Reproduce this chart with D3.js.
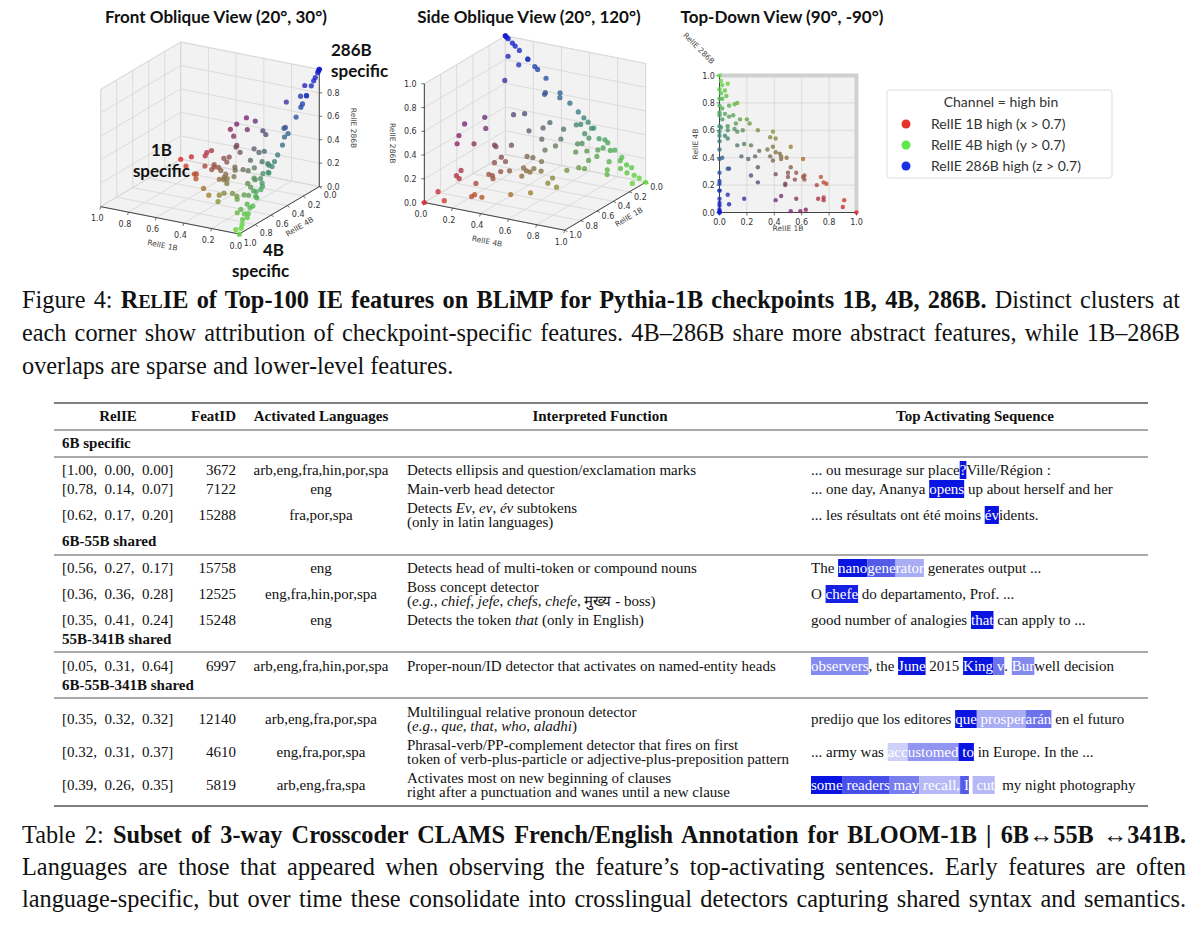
<!DOCTYPE html>
<html>
<head>
<meta charset="utf-8">
<script src="https://cdn.jsdelivr.net/npm/d3@7"></script>
<style>
  body { margin: 0; background: #fff; }
  text { white-space: pre; }
</style>
</head>
<body>
<div id="chart"></div>
<script>
// RelIE values of the top-100 features (1B, 4B, 286B)
const relie1B = [0,.01,.02,.06,0,.04,.01,.05,0,.02,.07,.11,.13,0,.02,0,.04,0,.07,.10,.02,
  0,.01,.06,.12,.15,.20,.22,.28,0,.06,.11,.13,.17,0,.04,0,.06,.13,.18,.23,.29,.26,.16,.21,.37,.39,.41,.35,.39,.41,.37,.44,.45,.52,.49,.45,.39,
  0,0,.02,.07,.06,.28,.52,.56,.61,.62,.55,.50,.48,.41,.50,
  0,0,0,0,0,0,0,0,0,0,0,0,.23,.28,.06,.07,.18,
  .41,.45,.48,.56,.52,.59,.63,.74,.76,.78,.61,.62,.72,.76,.76,.90,.91,1,.71];
const relie4B = [1,.96,.93,.94,.90,.89,.87,.85,.83,.83,.78,.79,.80,.78,.76,.73,.72,.71,.70,.71,.68,
  .63,.62,.63,.65,.68,.68,.65,.60,.59,.60,.61,.59,.60,.56,.56,.52,.54,.49,.50,.49,.45,.41,.41,.39,.55,.59,.54,.46,.48,.44,.41,.43,.41,.48,.40,.39,.38,
  .46,.39,.40,.32,.32,.33,.33,.29,.39,.27,.24,.26,.20,.28,.29,
  .29,.23,.21,.16,.16,.10,.07,.05,.02,0,0,.01,.27,.22,.13,.06,.10,
  .09,.12,.21,.10,.01,.01,.02,.26,.22,.21,.26,.24,.10,.11,.09,.04,.09,0,.20];
const relie286B = [0,.03,.05,0,.10,.07,.12,.10,.17,.15,.15,.10,.07,.22,.22,.27,.24,.29,.23,.19,.30,
  .37,.37,.31,.23,.17,.12,.13,.12,.41,.34,.28,.28,.23,.44,.40,.48,.40,.38,.32,.28,.26,.33,.43,.40,.08,.02,.05,.19,.13,.15,.22,.13,.14,0,.11,.16,.23,
  .54,.61,.58,.61,.62,.39,.15,.15,0,.11,.21,.24,.32,.31,.21,
  .71,.77,.79,.84,.84,.90,.93,.95,.98,1,1,.99,.50,.50,.81,.87,.72,
  .50,.43,.31,.34,.47,.40,.35,0,.02,.01,.13,.14,.18,.13,.15,.06,0,0,.09];

const tickValues = [0, 0.2, 0.4, 0.6, 0.8, 1.0];
const legendLabels = ["RelIE 1B high (x > 0.7)", "RelIE 4B high (y > 0.7)", "RelIE 286B high (z > 0.7)"];
const legendColors = ["#e3342b", "#5fe84a", "#1a30e6"];

// table data
const groupNames = ["6B specific", "6B-55B shared", "55B-341B shared", "6B-55B-341B shared"];
const tableRelie = ["[1.00,  0.00,  0.00]", "[0.78,  0.14,  0.07]", "[0.62,  0.17,  0.20]",
  "[0.56,  0.27,  0.17]", "[0.36,  0.36,  0.28]", "[0.35,  0.41,  0.24]",
  "[0.05,  0.31,  0.64]",
  "[0.35,  0.32,  0.32]", "[0.32,  0.31,  0.37]", "[0.39,  0.26,  0.35]"];
const tableFeat = ["3672", "7122", "15288", "15758", "12525", "15248", "6997", "12140", "4610", "5819"];
const tableLangs = ["arb,eng,fra,hin,por,spa", "eng", "fra,por,spa", "eng", "eng,fra,hin,por,spa", "eng",
  "arb,eng,fra,hin,por,spa", "arb,eng,fra,por,spa", "eng,fra,por,spa", "arb,eng,fra,spa"];
// each function: list of lines, each line list of [text, italic]
const tableFunc = [
  [[["Detects ellipsis and question/exclamation marks", 0]]],
  [[["Main-verb head detector", 0]]],
  [[["Detects ", 0], ["Ev", 1], [", ", 0], ["ev", 1], [", ", 0], ["év", 1], [" subtokens", 0]], [["(only in latin languages)", 0]]],
  [[["Detects head of multi-token or compound nouns", 0]]],
  [[["Boss concept detector", 0]], [["(", 0], ["e.g.", 1], [", ", 0], ["chief", 1], [", ", 0], ["jefe", 1], [", ", 0], ["chefs", 1], [", ", 0], ["chefe", 1], [", मुख्य - boss)", 0]]],
  [[["Detects the token ", 0], ["that", 1], [" (only in English)", 0]]],
  [[["Proper-noun/ID detector that activates on named-entity heads", 0]]],
  [[["Multilingual relative pronoun detector", 0]], [["(", 0], ["e.g.", 1], [", ", 0], ["que", 1], [", ", 0], ["that", 1], [", ", 0], ["who", 1], [", ", 0], ["aladhi", 1], [")", 0]]],
  [[["Phrasal-verb/PP-complement detector that fires on first", 0]], [["token of verb-plus-particle or adjective-plus-preposition pattern", 0]]],
  [[["Activates most on new beginning of clauses", 0]], [["right after a punctuation and wanes until a new clause", 0]]]
];
// each sequence: list of [token text, activation]
const tableSeq = [
  [["... ou mesurage sur place", 0], ["?", 1], ["Ville/Région :", 0]],
  [["... one day, Ananya ", 0], ["opens", 1], [" up about herself and her", 0]],
  [["... les résultats ont été moins ", 0], ["év", 1], ["idents.", 0]],
  [["The ", 0], ["nano", 1], ["gene", .7], ["rator", .35], [" generates output ...", 0]],
  [["O ", 0], ["chefe", .95], [" do departamento, Prof. ...", 0]],
  [["good number of analogies ", 0], ["that", 1], [" can apply to ...", 0]],
  [["observers", .5], [", the ", 0], ["June", 1], [" 2015 ", 0], ["King", 1], [" v", .6], [". ", 0], ["Bur", .5], ["well decision", 0]],
  [["predijo que los editores ", 0], ["que", 1], [" prosper", .35], ["arán", .6], [" en el futuro", 0]],
  [["... army was ", 0], ["acc", .2], ["ustomed", .45], [" to", 1], [" in Europe. In the ...", 0]],
  [["some", 1], [" readers", .75], [" may", .55], [" recall,", .3], [" I", .7], [" ", 0], [" cut", .3], ["  my night photography", 0]]
];

const W = 1200, H = 929;
const svg = d3.select("#chart").append("svg").attr("width", W).attr("height", H);
const sans = "Lato, 'Open Sans', sans-serif";
const serif = "'Liberation Serif', 'Times New Roman', serif";

function pointColor(x, y, z) {
  const s = x + y + z || 1;
  x /= s; y /= s; z /= s;
  return d3.rgb(x * 215 + y * 95 + z * 20, x * 40 + y * 220 + z * 25, x * 45 + y * 55 + z * 205);
}

// simple orthographic version of matplotlib's 3D view
function makeView(elev, azim, cx, cy, s) {
  const e = elev * Math.PI / 180, a = azim * Math.PI / 180;
  const r = [-Math.sin(a), Math.cos(a), 0];
  const u = [-Math.sin(e) * Math.cos(a), -Math.sin(e) * Math.sin(a), Math.cos(e)];
  const eye = [Math.cos(e) * Math.cos(a), Math.cos(e) * Math.sin(a), Math.sin(e)];
  const sx = d3.scaleLinear().domain([-1, 1]).range([cx - s, cx + s]);
  const sy = d3.scaleLinear().domain([-1, 1]).range([cy + s, cy - s]);
  const q = p => [p[0] - 0.5, p[1] - 0.5, (p[2] - 0.5) * 0.78];
  const dot = (v, w) => v[0] * w[0] + v[1] * w[1] + v[2] * w[2];
  return {
    eye, center: [cx, cy],
    p: pt => { const v = q(pt); return [sx(dot(v, r)), sy(dot(v, u))]; },
    depth: pt => dot(q(pt), eye)
  };
}

function drawPanel(view, opts) {
  const g = svg.append("g");
  const P = view.p;
  const line = pts => "M" + pts.map(p => P(p).join(",")).join("L");
  // back panes
  const panes = [];
  if (opts.panes) {
    const bx = view.eye[0] > 0 ? 0 : 1, by = view.eye[1] > 0 ? 0 : 1;
    panes.push({ ax: 0, v: bx }, { ax: 1, v: by }, { ax: 2, v: 0 });
  } else panes.push({ ax: 2, v: 0 });
  panes.forEach(pn => {
    const others = [0, 1, 2].filter(i => i !== pn.ax);
    const mk = (a, b) => { const p = [0, 0, 0]; p[pn.ax] = pn.v; p[others[0]] = a; p[others[1]] = b; return p; };
    g.append("path").attr("d", line([mk(0, 0), mk(1, 0), mk(1, 1), mk(0, 1)]) + "Z")
      .attr("fill", "#f2f2f2").attr("stroke", "#dcdcdc").attr("stroke-width", 0.8);
    tickValues.forEach(t => {
      g.append("path").attr("d", line([mk(t, 0), mk(t, 1)])).attr("stroke", "#d6d6d6").attr("stroke-width", 0.8);
      g.append("path").attr("d", line([mk(0, t), mk(1, t)])).attr("stroke", "#d6d6d6").attr("stroke-width", 0.8);
    });
  });
  if (opts.frame) {
    // thick grey frame edges seen in the top-down render
    g.append("path").attr("d", line([[0, 1, 0], [1, 1, 0], [1, 0, 0]]))
      .attr("fill", "none").attr("stroke", "#d0d0d0").attr("stroke-width", 4);
  }
  // axes with ticks
  opts.axes.forEach(ax => {
    const at = t => { const p = ax.base.slice(); p[ax.dim] = t; return p; };
    g.append("path").attr("d", line([at(0), at(1)])).attr("stroke", "#333").attr("stroke-width", 0.9);
    const mid = P(at(0.5));
    let ox = ax.out[0], oy = ax.out[1];
    const len = Math.hypot(ox, oy); ox /= len; oy /= len;
    tickValues.forEach(t => {
      const p = P(at(t));
      g.append("line").attr("x1", p[0]).attr("y1", p[1]).attr("x2", p[0] + ox * 3).attr("y2", p[1] + oy * 3)
        .attr("stroke", "#333").attr("stroke-width", 0.7);
      if (ax.skip && ax.skip.includes(t)) return;
      g.append("text").attr("x", p[0] + ox * (ax.tickOff || 12)).attr("y", p[1] + oy * (ax.tickOff || 12) + 3)
        .attr("text-anchor", "middle").attr("font-family", "'DejaVu Sans', sans-serif").attr("font-size", 8)
        .attr("fill", "#333").text(t.toFixed(1));
    });
    const a = P(at(0)), b = P(at(1));
    let ang = Math.atan2(b[1] - a[1], b[0] - a[0]) * 180 / Math.PI;
    if (ang > 90) ang -= 180; if (ang < -90) ang += 180;
    if (ax.rot !== undefined) ang = ax.rot;
    const tx = mid[0] + ox * (ax.titleOff || 26), ty = mid[1] + oy * (ax.titleOff || 26);
    g.append("text").attr("transform", `translate(${tx},${ty}) rotate(${ang})`)
      .attr("text-anchor", "middle").attr("dy", "0.35em")
      .attr("font-family", "'DejaVu Sans', sans-serif").attr("font-size", 7.5).attr("fill", "#444").text(ax.title);
  });
  // points, far first
  const idx = d3.range(relie1B.length).map(i => [relie1B[i], relie4B[i], relie286B[i]]);
  idx.sort((p, q) => view.depth(p) - view.depth(q));
  g.append("g").selectAll("circle").data(idx).join("circle")
    .attr("cx", d => P(d)[0]).attr("cy", d => P(d)[1]).attr("r", opts.r)
    .attr("fill", d => pointColor(...d)).attr("fill-opacity", 0.8);
  return g;
}

// panel 1
drawPanel(makeView(20, 120, 210, 138, 160), {
  panes: true, r: 2.6,
  axes: [
    { dim: 0, base: [0, 1, 0], title: "RelIE 1B", out: [-0.3, 1] },
    { dim: 1, base: [0, 0, 0], title: "RelIE 4B", out: [1, 0.8], tickOff: 14 },
    { dim: 2, base: [0, 0, 0], title: "RelIE 286B", out: [1, 0], rot: 90, titleOff: 34, tickOff: 14, skip: [1] }
  ]
});
// panel 2
drawPanel(makeView(20, 30, 535, 133, 162), {
  panes: true, r: 2.6,
  axes: [
    { dim: 0, base: [0, 1, 0], title: "RelIE 1B", out: [1, 0.45] },
    { dim: 1, base: [1, 0, 0], title: "RelIE 4B", out: [-0.3, 1] },
    { dim: 2, base: [1, 0, 0], title: "RelIE 286B", out: [-1, 0], rot: 90, titleOff: 32, tickOff: 14 }
  ]
});
// panel 3
drawPanel(makeView(90, -90, 788, 144, 137), {
  panes: false, r: 2.2, frame: true,
  axes: [
    { dim: 0, base: [0, 0, 0], title: "RelIE 1B", out: [0, 1], tickOff: 9, titleOff: 16 },
    { dim: 1, base: [0, 0, 0], title: "RelIE 4B", out: [-1, 0], tickOff: 11, titleOff: 24, rot: -90 }
  ]
});
svg.append("text").attr("transform", "translate(697,50) rotate(45)").attr("text-anchor", "middle")
  .attr("font-family", "'DejaVu Sans', sans-serif").attr("font-size", 7.5).attr("fill", "#444").text("RelIE 286B");

// panel titles
[["Front Oblique View (20°, 30°)", 216], ["Side Oblique View (20°, 120°)", 529], ["Top-Down View (90°, -90°)", 782]]
  .forEach(([t, x]) => svg.append("text").attr("x", x).attr("y", 23).attr("text-anchor", "middle")
    .attr("font-family", sans).attr("font-weight", "bold").attr("font-size", 17).attr("fill", "#111").text(t));

// corner annotations
const ann = svg.append("g").attr("font-family", sans).attr("font-weight", "bold").attr("font-size", 17).attr("fill", "#111");
ann.append("text").attr("x", 331).attr("y", 56).text("286B");
ann.append("text").attr("x", 331).attr("y", 77).text("specific");
ann.append("text").attr("x", 172).attr("y", 156).attr("text-anchor", "end").text("1B");
ann.append("text").attr("x", 190).attr("y", 177).attr("text-anchor", "end").text("specific");
ann.append("text").attr("x", 263).attr("y", 256).text("4B");
ann.append("text").attr("x", 232).attr("y", 277).text("specific");

// legend
const lg = svg.append("g");
lg.append("rect").attr("x", 887).attr("y", 90).attr("width", 225).attr("height", 88).attr("rx", 3)
  .attr("fill", "#fff").attr("stroke", "#ddd");
lg.append("text").attr("x", 1001).attr("y", 107).attr("text-anchor", "middle")
  .attr("font-family", sans).attr("font-size", 14).attr("fill", "#333").text("Channel = high bin");
legendLabels.forEach((t, i) => {
  lg.append("circle").attr("cx", 906).attr("cy", 124 + i * 21).attr("r", 4.5).attr("fill", legendColors[i]);
  lg.append("text").attr("x", 931).attr("y", 129 + i * 21).attr("font-family", sans).attr("font-size", 14)
    .attr("fill", "#333").text(t);
});

// captions
function captionLine(y, parts, width) {
  const t = svg.append("text").attr("x", 22).attr("y", y).attr("font-family", serif).attr("font-size", 24.3).attr("fill", "#111");
  parts.forEach(([s, bold, size]) => t.append("tspan").attr("font-weight", bold ? "bold" : "normal")
    .attr("font-size", size || null).text(s));
  if (width) {
    const nat = t.node().getComputedTextLength();
    if (nat < width) t.attr("word-spacing", (width - nat) / (t.text().split(" ").length - 1));
    else t.attr("textLength", width).attr("lengthAdjust", "spacingAndGlyphs");
  }
}
captionLine(308, [["Figure 4: ", 0], ["R", 1], ["EL", 1, 18.3], ["IE of Top-100 IE features on BLiMP for Pythia-1B checkpoints 1B, 4B, 286B.", 1], [" Distinct clusters at", 0]], 1158);
captionLine(341, [["each corner show attribution of checkpoint-specific features. 4B–286B share more abstract features, while 1B–286B", 0]], 1158);
captionLine(374, [["overlaps are sparse and lower-level features.", 0]]);

captionLine(843, [["Table 2: ", 0], ["Subset of 3-way Crosscoder CLAMS French/English Annotation for BLOOM-1B | 6B↔55B ↔341B.", 1]], 1164);
captionLine(875, [["Languages are those that appeared when observing the feature’s top-activating sentences. Early features are often", 0]], 1164);
captionLine(907, [["language-specific, but over time these consolidate into crosslingual detectors capturing shared syntax and semantics.", 0]], 1164);

// table
const tb = svg.append("g").attr("font-family", serif).attr("font-size", 15).attr("fill", "#111");
const rule = (y, w) => tb.append("line").attr("x1", 54).attr("x2", 1148).attr("y1", y).attr("y2", y)
  .attr("stroke", "#555").attr("stroke-width", w);
rule(403, 1.6); rule(430, 1); rule(457, 1); rule(555, 1); rule(652, 1); rule(698, 1); rule(806, 1.6);

const hdr = [["RelIE", 118, "middle"], ["FeatID", 236, "end"], ["Activated Languages", 321, "middle"],
  ["Interpreted Function", 600, "middle"], ["Top Activating Sequence", 975, "middle"]];
hdr.forEach(([t, x, a]) => tb.append("text").attr("x", x).attr("y", 421).attr("text-anchor", a)
  .attr("font-weight", "bold").text(t));
[443, 541, 639, 685].forEach((y, i) => tb.append("text").attr("x", 62).attr("y", y + 5)
  .attr("font-weight", "bold").text(groupNames[i]));

const rowY = [470, 489, 515, 568, 594, 620, 666, 719, 752, 785];
rowY.forEach((y, i) => {
  tb.append("text").attr("x", 62).attr("y", y + 5).text(tableRelie[i]);
  tb.append("text").attr("x", 236).attr("y", y + 5).attr("text-anchor", "end").text(tableFeat[i]);
  tb.append("text").attr("x", 321).attr("y", y + 5).attr("text-anchor", "middle").text(tableLangs[i]);
  const lines = tableFunc[i];
  lines.forEach((ln, j) => {
    const ly = lines.length === 1 ? y : y - 7.5 + j * 14.5;
    const t = tb.append("text").attr("x", 407).attr("y", ly + 5);
    ln.forEach(([s, it]) => t.append("tspan").attr("font-style", it ? "italic" : "normal").text(s));
  });
  // highlighted sequence
  let x = 811;
  tableSeq[i].forEach(([s, act]) => {
    const bg = tb.append("rect");
    const t = tb.append("text").attr("x", x).attr("y", y + 5).attr("fill", act > 0 ? "#fff" : "#111").text(s);
    const w = t.node().getComputedTextLength();
    if (act > 0) {
      const c = d3.interpolateRgb("#ffffff", "#0a14e0")(act);
      bg.attr("x", x).attr("y", y - 9).attr("width", w).attr("height", 18).attr("fill", c);
    } else bg.remove();
    x += w;
  });
});
</script>
</body>
</html>
